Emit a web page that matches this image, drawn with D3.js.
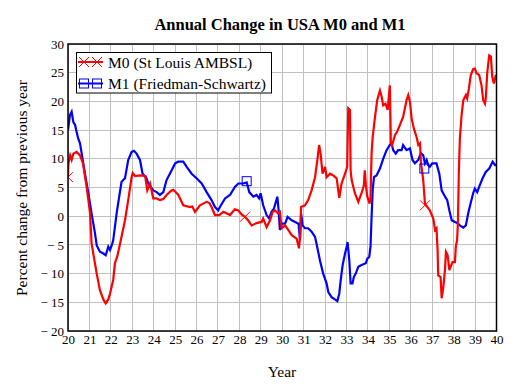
<!DOCTYPE html>
<html><head><meta charset="utf-8">
<script src="https://cdn.jsdelivr.net/npm/d3@7"></script>
<style>body{margin:0;background:#fff}svg{display:block}</style>
</head><body>
<svg id="c" width="518" height="391"></svg>
<script>
const xTicks=[20,21,22,23,24,25,26,27,28,29,30,31,32,33,34,35,36,37,38,39,40];
const yTicks=[-20,-15,-10,-5,0,5,10,15,20,25,30];
const yTickLabels=["\u2212 20","\u2212 15","\u2212 10","\u2212 5","0","5","10","15","20","25","30"];
const seriesNames=["M0 (St Louis AMBSL)","M1 (Friedman-Schwartz)"];
const m0Years=[20.0,20.02,20.1,20.17,20.25,20.4,20.56,20.7,20.87,21.03,21.1,21.18,21.34,21.49,21.65,21.76,21.88,21.96,22.11,22.19,22.3,22.43,22.66,22.81,22.97,23.02,23.13,23.35,23.6,23.7,23.83,23.98,24.14,24.29,24.45,24.6,24.8,24.91,25.0,25.15,25.38,25.69,25.8,25.93,26.16,26.47,26.6,26.7,26.86,27.06,27.25,27.4,27.56,27.79,27.95,28.1,28.26,28.4,28.57,28.8,29.04,29.11,29.27,29.43,29.55,29.66,29.8,29.89,29.97,30.13,30.28,30.44,30.67,30.78,30.83,30.88,31.06,31.21,31.37,31.53,31.64,31.72,31.79,31.88,32.0,32.07,32.23,32.38,32.54,32.66,32.77,32.93,33.03,33.08,33.16,33.19,33.24,33.39,33.55,33.7,33.81,33.85,33.9,33.97,34.08,34.12,34.17,34.22,34.33,34.43,34.56,34.64,34.71,34.82,34.92,35.02,35.07,35.13,35.26,35.36,35.46,35.64,35.8,35.88,35.96,36.04,36.14,36.27,36.35,36.43,36.47,36.58,36.66,36.89,37.05,37.13,37.2,37.25,37.28,37.39,37.44,37.52,37.6,37.64,37.72,37.8,37.86,37.95,38.06,38.1,38.16,38.2,38.24,38.29,38.37,38.45,38.57,38.63,38.71,38.8,38.91,38.99,39.07,39.19,39.3,39.38,39.46,39.5,39.57,39.66,39.74,39.8,39.88,39.97,40.0];
const m0Values=[7.0,9.2,10.6,9.8,10.9,11.2,10.6,9.2,5.1,0.5,-4.7,-6.5,-10,-12.9,-14.5,-15.2,-14.5,-13.5,-11.1,-8.2,-7,-4.8,-0.7,2.8,6.8,7.5,7.0,7.1,7.0,4.5,5.7,3.1,3.1,2.8,3.0,3.7,4.4,4.6,4.3,3.7,1.9,1.6,1.7,0.75,1.9,2.5,2.3,1.6,0.2,0.2,0.75,0.5,0.2,1.2,1.0,0.3,-0.1,-0.7,-1.6,-1.2,-1.0,-0.4,-1.9,-0.7,0.75,1.0,0.5,0.75,-2.1,-1.6,-2.4,-3.3,-3.9,-5.6,-3.6,1.6,1.9,2.8,4.5,6.8,9.8,12.4,10.9,7.4,8.6,6.8,7.4,7.1,6.6,3.2,5.7,7.4,8.6,18.8,18.5,8.0,6.3,4.0,2.5,4.0,5.4,8.0,5.5,3.4,2.2,3.4,11,13.8,17.3,20.2,21.9,20.8,19.3,19.6,18.5,22.8,12.7,12.4,14.1,14.7,15.6,17.3,20.2,21.1,19.9,17.0,15.3,13.8,12.4,12.7,9.5,6.3,2.2,1.0,-0.4,-2.4,-2.1,-5.9,-10.3,-10.6,-14.3,-12.3,-9.1,-6.2,-6.8,-9.4,-8.8,-8.0,-8.0,-5.3,-4.2,-1,7.4,13.5,17.6,20.2,21.1,20.5,22.2,24.6,25.6,25.7,24.9,24.6,22.8,20.2,19.6,20.5,25.1,28.0,27.8,24.3,23.1,24.6,24.0];
const m1Years=[20.0,20.09,20.17,20.25,20.33,20.4,20.48,20.56,20.64,20.79,20.95,21.1,21.26,21.34,21.49,21.65,21.76,21.88,21.96,22.04,22.11,22.27,22.39,22.5,22.66,22.81,22.97,23.08,23.2,23.36,23.48,23.64,23.75,23.98,24.14,24.29,24.45,24.6,24.84,25.0,25.15,25.38,25.54,25.77,26.0,26.24,26.47,26.7,26.86,27.01,27.09,27.33,27.56,27.79,27.95,28.18,28.34,28.46,28.65,28.8,28.92,28.99,29.11,29.27,29.39,29.5,29.61,29.77,29.83,29.89,29.97,30.13,30.25,30.44,30.6,30.76,30.83,30.88,30.95,31.06,31.21,31.37,31.53,31.6,31.76,31.91,32.07,32.15,32.3,32.46,32.57,32.66,32.73,32.82,32.93,33.01,33.05,33.13,33.19,33.28,33.34,33.43,33.55,33.7,33.9,33.97,34.06,34.12,34.17,34.22,34.28,34.4,34.56,34.71,34.87,35.02,35.1,35.18,35.3,35.41,35.57,35.64,35.8,35.96,36.08,36.19,36.35,36.47,36.58,36.66,36.74,36.81,36.89,37.0,37.2,37.33,37.44,37.6,37.7,37.8,37.91,38.06,38.17,38.29,38.45,38.57,38.68,38.79,38.91,38.99,39.1,39.19,39.35,39.5,39.66,39.82,39.93,40.0];
const m1Values=[15.0,17.6,18.2,16.4,15.9,14.7,13.5,12.7,10.9,7.4,4.0,0.5,-3.0,-5.1,-6.2,-6.5,-6.8,-5.3,-5.9,-5.1,-4.2,0.5,3.4,6.0,6.6,9.8,11.2,11.4,10.9,9.8,7.4,6.8,5.7,4.5,4.2,3.7,4.2,6.3,8.0,9.2,9.5,9.5,8.6,7.4,6.6,5.7,4.2,2.8,1.6,1.0,1.6,3.1,3.7,5.1,5.7,5.7,5.9,4.2,3.4,3.7,3.1,4.0,1.9,0.2,-0.4,0.75,1.3,3.4,1.0,-2.4,-1.3,-1.3,-0.1,-0.7,-1.0,-1.3,-4.2,0.5,-1.6,-2.1,-2.1,-2.7,-3.6,-4.8,-7.7,-10.0,-11.7,-13.2,-14.1,-14.5,-14.8,-13.5,-11.1,-8.5,-6.5,-5.3,-4.5,-7.7,-11.7,-11.7,-10.6,-10.0,-8.8,-8.5,-8.2,-7.4,-7.1,-5.3,-0.1,4.5,6.8,7.1,8.3,10.0,11.5,12.4,12.7,11.5,10.9,11.5,11.5,12.4,11.5,11.8,9.8,9.2,9.8,11.0,10.6,9.2,9.8,8.9,8.6,9.2,9.2,7.4,4.5,3.4,2.8,1.0,-0.7,-1.0,-1.2,-1.6,-2.0,-1.6,0.5,2.2,4.0,4.8,4.2,5.1,6.6,7.7,8.3,9.5,8.9,9.0];
const m0MarkerYears=[20.0,28.26,36.66];
const m0MarkerValues=[6.8,-0.1,1.9];
const m1MarkerYears=[28.34,36.63];
const m1MarkerValues=[6.1,8.3];

const FONT='"Liberation Serif","Times New Roman",serif';
const svg=d3.select("#c");
const L=68,R=496.5,T=44,B=331;
const x=d3.scaleLinear().domain([20,40]).range([L,R]);
const y=d3.scaleLinear().domain([-20,30]).range([B,T]);

svg.append("defs").append("clipPath").attr("id","clip").append("rect")
  .attr("x",L).attr("y",T).attr("width",R-L).attr("height",B-T);

// grid
const g=svg.append("g").attr("stroke","#c0c0c0").attr("stroke-width",1).attr("shape-rendering","crispEdges");
g.selectAll("line.v").data(xTicks).join("line").attr("class","v").attr("x1",d=>x(d)).attr("x2",d=>x(d)).attr("y1",T).attr("y2",B);
g.selectAll("line.h").data(yTicks).join("line").attr("class","h").attr("y1",d=>y(d)).attr("y2",d=>y(d)).attr("x1",L).attr("x2",R);

// axes
const xAxis=d3.axisBottom(x).tickValues(xTicks).tickSize(0).tickPadding(4).tickFormat(d=>String(d));
const ax=svg.append("g").attr("transform",`translate(0,${B})`).call(xAxis);
ax.select(".domain").remove();
ax.selectAll("text").style("font-family",FONT).style("font-size","13px").attr("fill","#000");
const yAxis=d3.axisLeft(y).tickValues(yTicks).tickSize(0).tickPadding(4).tickFormat((d,i)=>yTickLabels[i]);
const ay=svg.append("g").attr("transform",`translate(${L},0)`).call(yAxis);
ay.select(".domain").remove();
ay.selectAll("text").style("font-family",FONT).style("font-size","13px").attr("fill","#000");

const plot=svg.append("g").attr("clip-path","url(#clip)");
const line=d3.line().x(d=>x(d[0])).y(d=>y(d[1]));
const m0=m0Years.map((v,i)=>[v,m0Values[i]]);
const m1=m1Years.map((v,i)=>[v,m1Values[i]]);
plot.append("path").attr("d",line(m1)).attr("fill","none").attr("stroke","#0000ff").attr("stroke-width",2.2);
plot.append("path").attr("d",line(m0)).attr("fill","none").attr("stroke","#ff0000").attr("stroke-width",2.2);

// markers
const ms=5;
m0MarkerYears.forEach((yr,i)=>{
  const cx=x(yr),cy=y(m0MarkerValues[i]);
  plot.append("path").attr("d",`M${cx-ms},${cy-ms}L${cx+ms},${cy+ms}M${cx-ms},${cy+ms}L${cx+ms},${cy-ms}`).attr("stroke","#ff0000").attr("stroke-width",1).attr("fill","none");
});
m1MarkerYears.forEach((yr,i)=>{
  const cx=x(yr),cy=y(m1MarkerValues[i]);
  plot.append("rect").attr("x",cx-4.5).attr("y",cy-4.5).attr("width",9).attr("height",9).attr("stroke","#0000ff").attr("stroke-width",1).attr("fill","none");
});

// frame
svg.append("rect").attr("x",L).attr("y",T).attr("width",R-L).attr("height",B-T).attr("fill","none").attr("stroke","#000").attr("stroke-width",1.5);

// legend
const lg=svg.append("g");
lg.append("rect").attr("x",76.5).attr("y",52.5).attr("width",195).attr("height",40.5).attr("fill","#fff").attr("stroke","#000").attr("stroke-width",1);
const legendColors=["#ff0000","#0000ff"];
seriesNames.forEach((n,i)=>{
  const ly=62+i*21.5;
  lg.append("line").attr("x1",78).attr("x2",103).attr("y1",ly).attr("y2",ly).attr("stroke",legendColors[i]).attr("stroke-width",2);
  [84,97].forEach(cx=>{
    if(i===0){
      lg.append("path").attr("d",`M${cx-ms},${ly-ms}L${cx+ms},${ly+ms}M${cx-ms},${ly+ms}L${cx+ms},${ly-ms}`).attr("stroke","#ff0000").attr("stroke-width",1);
    } else {
      lg.append("rect").attr("x",cx-4.5).attr("y",ly-4.5).attr("width",9).attr("height",9).attr("stroke","#0000ff").attr("fill","none").attr("stroke-width",1);
    }
  });
  lg.append("text").attr("x",108).attr("y",ly+5.5).style("font-family",FONT).style("font-size","15.5px").text(n);
});

// titles
svg.append("text").attr("x",280).attr("y",29.5).attr("text-anchor","middle").style("font-family",FONT).style("font-size","16.5px").style("font-weight","bold").text("Annual Change in USA M0 and M1");
svg.append("text").attr("x",282).attr("y",377).attr("text-anchor","middle").style("font-family",FONT).style("font-size","15.5px").text("Year");
svg.append("text").attr("transform","translate(27,188) rotate(-90)").attr("text-anchor","middle").style("font-family",FONT).style("font-size","15.5px").text("Percent change from previous year");
</script>
</body></html>
